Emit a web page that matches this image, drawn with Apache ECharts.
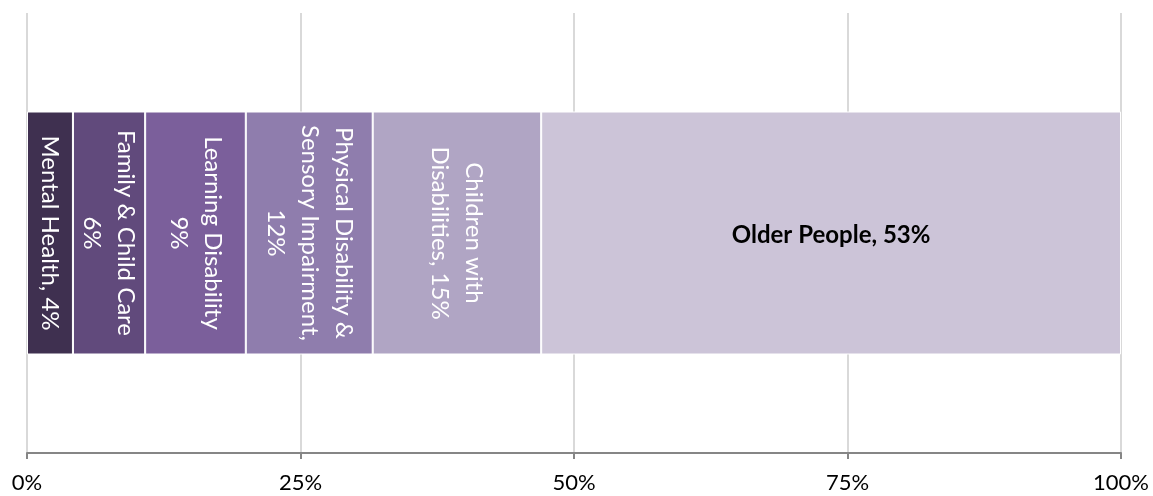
<!DOCTYPE html>
<html><head><meta charset="utf-8">
<script src="https://cdn.jsdelivr.net/npm/echarts@6/dist/echarts.min.js"></script>
<style>html,body{margin:0;padding:0;background:#fff}#c{width:1153px;height:496px}</style>
</head><body><div id="c"></div>
<script>
var categories = ['Mental Health', 'Family & Child Care', 'Learning Disability', 'Physical Disability & Sensory Impairment', 'Children with Disabilities', 'Older People'];
var values = [4.2, 6.6, 9.2, 11.6, 15.4, 53.0];
var labelTexts = ['Mental Health, 4%', 'Family & Child Care\n6%', 'Learning Disability\n9%', 'Physical Disability &\nSensory Impairment,\n12%', 'Children with\nDisabilities, 15%', 'Older People, 53%'];
var colors = ['#3f3050', '#614a7c', '#7b5f9b', '#8f7dad', '#b0a5c4', '#ccc4d8'];
var tickLabels = ['0%', '25%', '50%', '75%', '100%'];

var series = categories.map(function (name, i) {
  var last = i === categories.length - 1;
  return {
    name: name,
    type: 'bar',
    stack: 'total',
    barWidth: 243,
    data: [values[i]],
    itemStyle: { color: colors[i], borderColor: '#ffffff', borderWidth: 1 },
    label: {
      show: true,
      position: 'inside',
      formatter: labelTexts[i],
      rotate: last ? 0 : -90,
      offset: last ? [0, 2] : [0, 0],
      color: last ? '#000000' : '#ffffff',
      fontFamily: 'Lato, "Open Sans", sans-serif',
      fontWeight: last ? 'bold' : 'normal',
      fontSize: 24,
      lineHeight: 34,
      align: 'center',
      verticalAlign: 'middle'
    }
  };
});

var chart = echarts.init(document.getElementById('c'));
chart.setOption({
  animation: false,
  grid: { left: 27, right: 32, top: 13, bottom: 43 },
  xAxis: {
    type: 'value', min: 0, max: 100, interval: 25,
    axisLine: { show: true, lineStyle: { color: '#868686', width: 2 } },
    axisTick: { show: true, length: 6, lineStyle: { color: '#868686', width: 2 } },
    splitLine: { show: true, lineStyle: { color: '#d9d9d9', width: 2 } },
    axisLabel: {
      formatter: function (v) { return tickLabels[Math.round(v / 25)]; },
      color: '#000', fontSize: 22, margin: 19,
      fontFamily: 'Lato, "Open Sans", sans-serif'
    }
  },
  yAxis: { type: 'category', data: [''], show: false },
  series: series
});
</script></body></html>
